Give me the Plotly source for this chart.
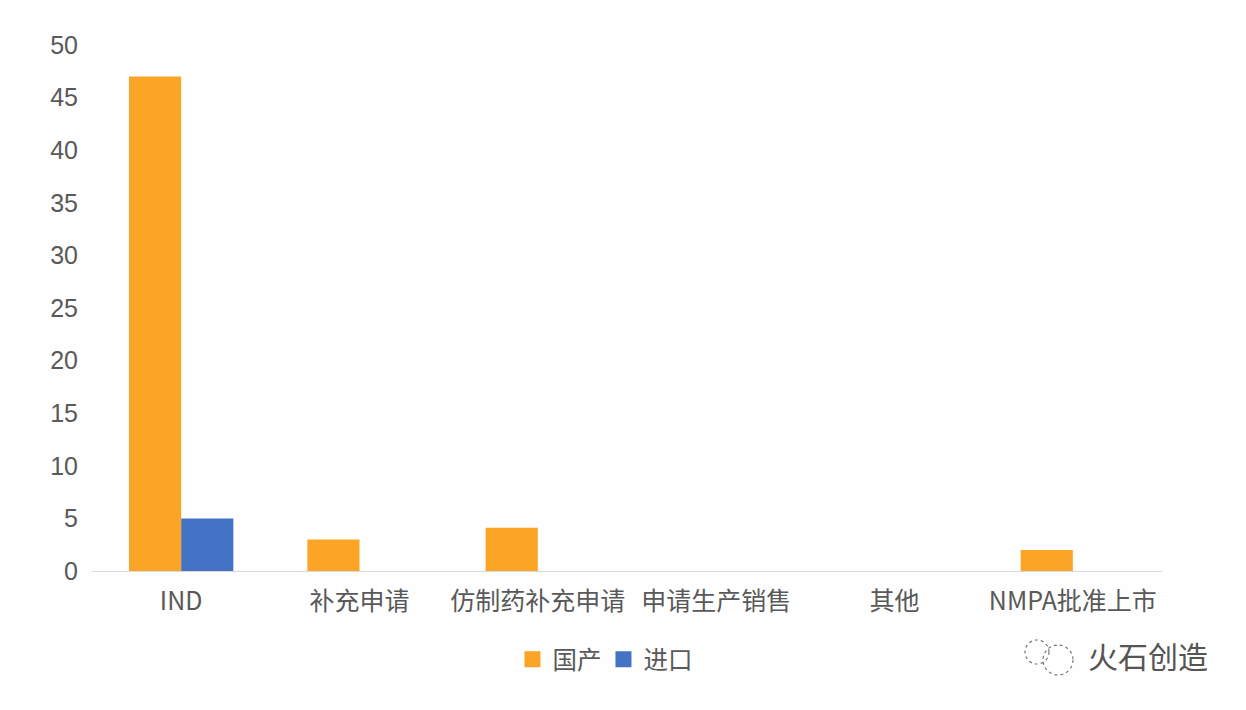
import plotly.graph_objects as go

categories = ["IND", "补充申请", "仿制药补充申请", "申请生产销售", "其他", "NMPA批准上市"]
domestic = [47, 3, 4.1, None, None, 2]
imported = [5, None, None, None, None, None]
tick_vals = [0, 5, 10, 15, 20, 25, 30, 35, 40, 45, 50]

FONT = "Noto Sans CJK SC, sans-serif"
ORANGE = "#FAA526"
BLUE = "#4472C4"


def px(x):
    return (x - 92) / 1070


def py(y):
    return (571 - y) / 526


fig = go.Figure()
fig.add_bar(name="国产", x=categories, y=domestic, marker_color=ORANGE, marker_line_width=0, showlegend=False)
fig.add_bar(name="进口", x=categories, y=imported, marker_color=BLUE, marker_line_width=0, showlegend=False)
fig.add_scatter(name="国产", x=[None], y=[None], mode="markers",
                marker=dict(symbol="square", size=16, color=ORANGE))
fig.add_scatter(name="进口", x=[None], y=[None], mode="markers",
                marker=dict(symbol="square", size=16, color=BLUE))

logo_circles = [(1037, 652, 12), (1058, 660, 15)]
shapes = [
    dict(type="circle", xref="paper", yref="paper",
         x0=px(cx - r), x1=px(cx + r), y0=py(cy + r), y1=py(cy - r),
         line=dict(color="#777777", width=1.2, dash="dot"))
    for cx, cy, r in logo_circles
]

fig.update_layout(
    width=1246, height=710, paper_bgcolor="#FEFEFE", plot_bgcolor="#FEFEFE",
    margin=dict(l=84, r=92, t=37, b=147),
    barmode="group", bargap=0.415, bargroupgap=0,
    font=dict(family=FONT, size=25, color="#595959"),
    legend=dict(orientation="h", x=0.478, xanchor="center", y=-0.125, yanchor="top",
                font=dict(size=24.5), itemwidth=30, entrywidth=46, entrywidthmode="pixels"),
    shapes=shapes,
    annotations=[dict(text="火石创造", x=px(1148), y=py(655), xref="paper", yref="paper",
                      xanchor="center", yanchor="middle",
                      showarrow=False, font=dict(size=30, color="#555555"))],
)
fig.update_xaxes(showgrid=False, showline=True, linecolor="#D9D9D9", linewidth=1, ticks="",
                 tickfont=dict(size=25), ticklabelstandoff=8, automargin=False)
fig.update_yaxes(range=[0, 50], tickvals=tick_vals, showgrid=False, zeroline=False, ticks="",
                 tickfont=dict(size=25, family="Liberation Sans"), ticklabelstandoff=13, automargin=False)
fig.write_html("out.html")
